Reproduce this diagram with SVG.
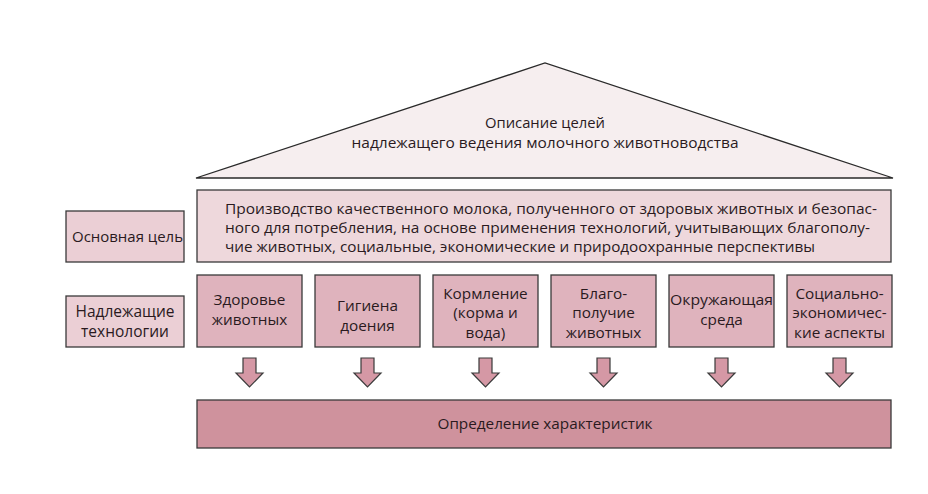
<svg xmlns="http://www.w3.org/2000/svg" width="928" height="494" viewBox="0 0 928 494">
<defs>
<style>
text{font-family:"Open Sans","Noto Sans",sans-serif;font-size:15px;fill:#2a1a1e;}
.c{text-anchor:middle;}
.t{font-size:15.3px;}
.box{stroke:#3a3a3a;stroke-width:1.3;}
.tech{fill:#dfb3bd;}
.lab{fill:#ebcfd5;}
.goal{fill:#eed8dc;}
.arr{fill:#d598a5;stroke:#3a3a3a;stroke-width:1.2;}
</style>
</defs>
<rect width="928" height="494" fill="#ffffff"/>
<g id="roof">
<polygon points="196,178 545,63 893,178" fill="#f6eeef" stroke="#2a2a2a" stroke-width="1.3"/>
<text class="c" x="545" y="128"><tspan x="545" y="128" textLength="120" lengthAdjust="spacingAndGlyphs">Описание целей</tspan><tspan x="545" y="148" textLength="387" lengthAdjust="spacingAndGlyphs">надлежащего ведения молочного животноводства</tspan></text>
</g>
<g id="label-goal">
<rect class="box lab" x="66" y="211" width="118" height="51"/>
<text x="72" y="242" textLength="111" lengthAdjust="spacingAndGlyphs">Основная цель</text>
</g>
<g id="goal">
<rect class="box goal" x="197" y="190" width="694" height="72"/>
<text x="225" y="214"><tspan x="225" y="214" textLength="652" lengthAdjust="spacingAndGlyphs">Производство качественного молока, полученного от здоровых животных и безопас-</tspan><tspan x="225" y="233" textLength="645" lengthAdjust="spacingAndGlyphs">ного для потребления, на основе применения технологий, учитывающих благополу-</tspan><tspan x="225" y="252" textLength="590" lengthAdjust="spacingAndGlyphs">чие животных, социальные, экономические и природоохранные перспективы</tspan></text>
</g>
<g id="label-tech">
<rect class="box lab" x="66" y="296" width="118" height="51"/>
<text class="c" x="125" y="317" style="font-size:15.5px"><tspan x="125" y="317">Надлежащие</tspan><tspan x="125" y="337">технологии</tspan></text>
</g>
<g id="t1">
<rect class="box tech" x="197" y="275" width="105" height="72"/>
<text class="c t" x="249.5" y="305"><tspan x="249.5" y="305">Здоровье</tspan><tspan x="249.5" y="325">животных</tspan></text>
</g>
<g id="t2">
<rect class="box tech" x="315" y="275" width="105" height="72"/>
<text class="c t" x="367.5" y="311"><tspan x="367.5" y="311">Гигиена</tspan><tspan x="367.5" y="331">доения</tspan></text>
</g>
<g id="t3">
<rect class="box tech" x="433" y="275" width="105" height="72"/>
<text class="c t" x="485.5" y="298.5"><tspan x="485.5" y="298.5">Кормление</tspan><tspan x="485.5" y="318">(корма и</tspan><tspan x="485.5" y="337.5">вода)</tspan></text>
</g>
<g id="t4">
<rect class="box tech" x="551" y="275" width="105" height="72"/>
<text class="c t" x="603.5" y="298.5"><tspan x="603.5" y="298.5">Благо-</tspan><tspan x="603.5" y="318">получие</tspan><tspan x="603.5" y="337.5">животных</tspan></text>
</g>
<g id="t5">
<rect class="box tech" x="669" y="275" width="105" height="72"/>
<text class="c t" x="721.5" y="305"><tspan x="721.5" y="305" textLength="103" lengthAdjust="spacingAndGlyphs">Окружающая</tspan><tspan x="721.5" y="325">среда</tspan></text>
</g>
<g id="t6">
<rect class="box tech" x="787" y="275" width="105" height="72"/>
<text class="c t" x="839.5" y="298.5"><tspan x="839.5" y="298.5">Социально-</tspan><tspan x="839.5" y="318">экономичес-</tspan><tspan x="839.5" y="337.5">кие аспекты</tspan></text>
</g>
<g id="connectors">
<path class="arr" d="M243,358 h13 v15 h7 l-13.5,14 l-13.5,-14 h7 z"/>
<path class="arr" d="M361,358 h13 v15 h7 l-13.5,14 l-13.5,-14 h7 z"/>
<path class="arr" d="M479,358 h13 v15 h7 l-13.5,14 l-13.5,-14 h7 z"/>
<path class="arr" d="M597,358 h13 v15 h7 l-13.5,14 l-13.5,-14 h7 z"/>
<path class="arr" d="M715,358 h13 v15 h7 l-13.5,14 l-13.5,-14 h7 z"/>
<path class="arr" d="M833,358 h13 v15 h7 l-13.5,14 l-13.5,-14 h7 z"/>
</g>
<g id="result">
<rect class="box" x="197" y="400" width="694" height="48" fill="#cf929d"/>
<text class="c" x="545" y="429" textLength="215" lengthAdjust="spacingAndGlyphs">Определение характеристик</text>
</g>
</svg>
